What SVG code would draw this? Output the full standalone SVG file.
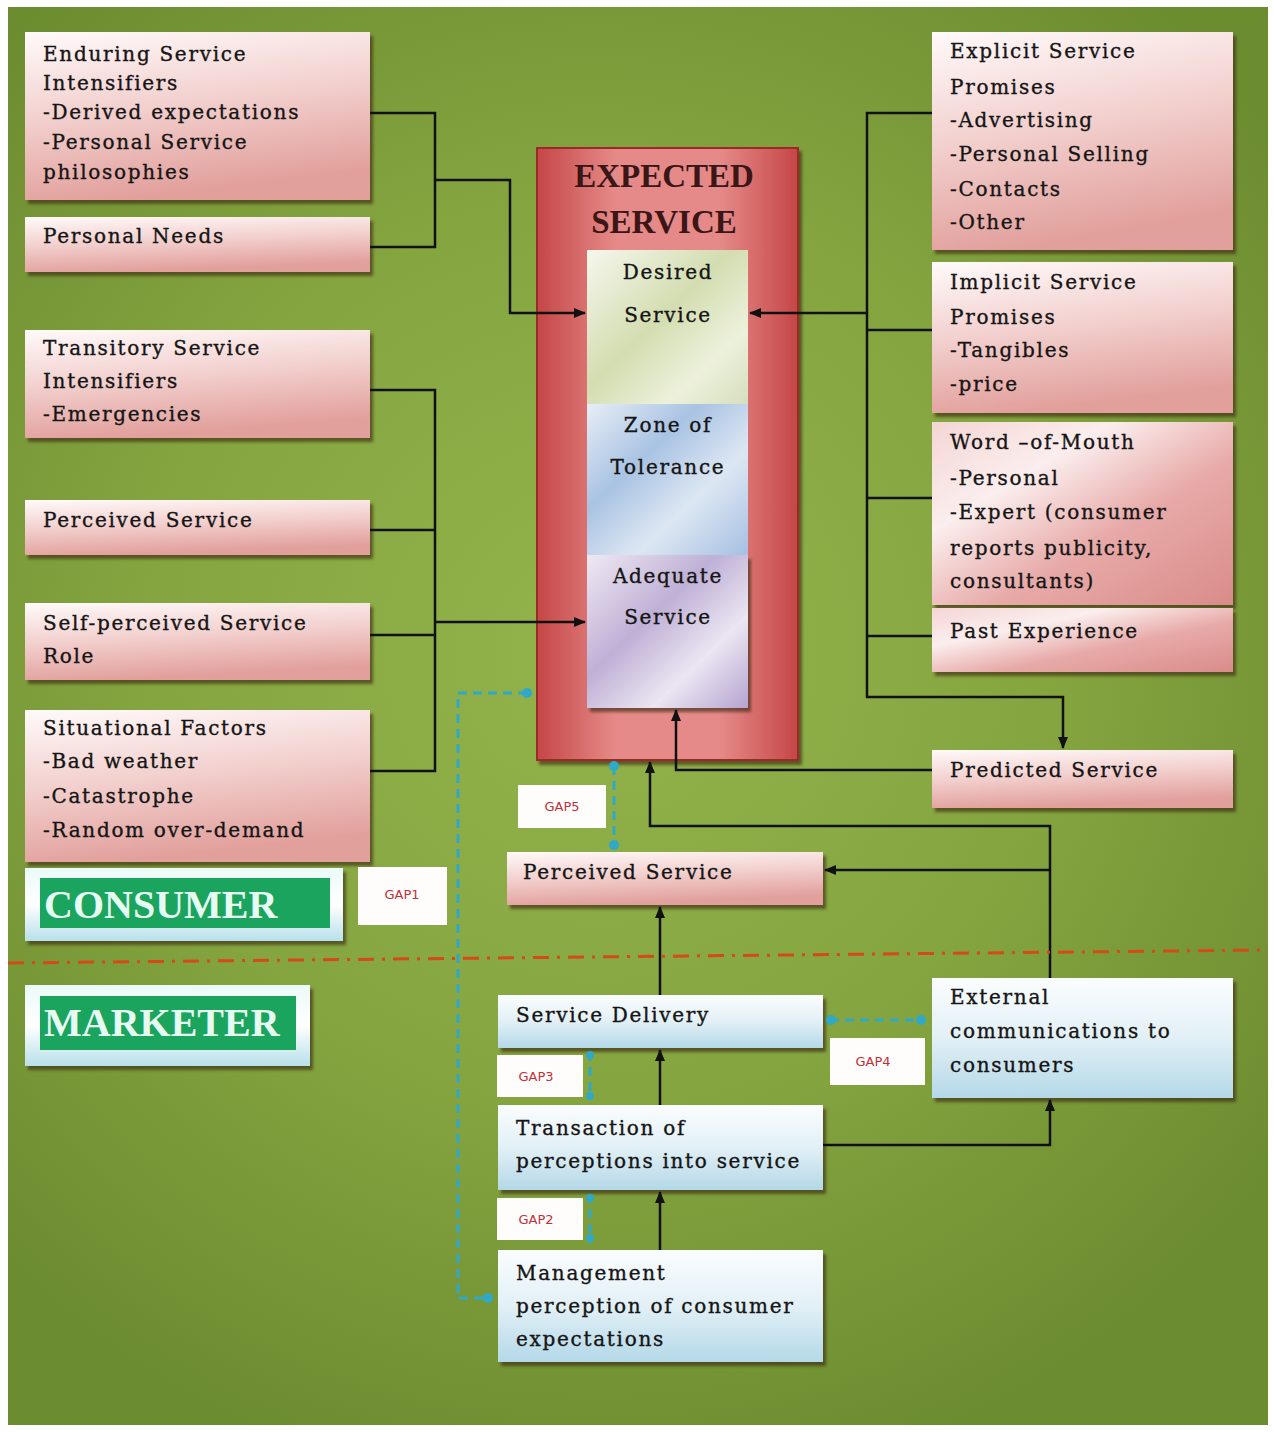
<svg xmlns="http://www.w3.org/2000/svg" width="1274" height="1432" viewBox="0 0 1274 1432">
<defs>
<radialGradient id="bg" cx="600" cy="650" r="850" gradientUnits="userSpaceOnUse">
<stop offset="0" stop-color="#93b44c"/>
<stop offset="0.55" stop-color="#84a440"/>
<stop offset="1" stop-color="#6c8c30"/>
</radialGradient>
<linearGradient id="pink" x1="0" y1="0" x2="0.25" y2="1">
<stop offset="0" stop-color="#fffafa"/>
<stop offset="0.5" stop-color="#f2d0ce"/>
<stop offset="1" stop-color="#e2a09c"/>
</linearGradient>
<linearGradient id="pink2" x1="0" y1="0" x2="1" y2="1">
<stop offset="0" stop-color="#f4d6d4"/>
<stop offset="0.3" stop-color="#fbeeee"/>
<stop offset="0.6" stop-color="#e7aaa8"/>
<stop offset="1" stop-color="#d98c8a"/>
</linearGradient>
<linearGradient id="blue" x1="0" y1="0" x2="0" y2="1">
<stop offset="0" stop-color="#fbfdfe"/>
<stop offset="0.5" stop-color="#e2f0f6"/>
<stop offset="1" stop-color="#b4d8e8"/>
</linearGradient>
<linearGradient id="lbl" x1="0" y1="0" x2="0" y2="1">
<stop offset="0" stop-color="#eafaf8"/>
<stop offset="0.5" stop-color="#ffffff"/>
<stop offset="1" stop-color="#b8e0ea"/>
</linearGradient>
<linearGradient id="red" x1="0" y1="0" x2="1" y2="0">
<stop offset="0" stop-color="#c54646"/>
<stop offset="0.3" stop-color="#e58a88"/>
<stop offset="0.7" stop-color="#e58a88"/>
<stop offset="1" stop-color="#c54646"/>
</linearGradient>
<linearGradient id="des" x1="0" y1="0" x2="1" y2="1">
<stop offset="0" stop-color="#f6f7ee"/>
<stop offset="0.45" stop-color="#d3ddb0"/>
<stop offset="0.75" stop-color="#edf1dc"/>
<stop offset="1" stop-color="#d5dfbc"/>
</linearGradient>
<linearGradient id="zone" x1="0" y1="0" x2="1" y2="1">
<stop offset="0" stop-color="#e8eef6"/>
<stop offset="0.35" stop-color="#a9c3e3"/>
<stop offset="0.65" stop-color="#dde7f3"/>
<stop offset="1" stop-color="#a6c0e2"/>
</linearGradient>
<linearGradient id="adeq" x1="0" y1="0" x2="1" y2="1">
<stop offset="0" stop-color="#efe9f3"/>
<stop offset="0.4" stop-color="#bfb0d6"/>
<stop offset="0.7" stop-color="#ebe6f2"/>
<stop offset="1" stop-color="#b5a4d0"/>
</linearGradient>
<filter id="sh" x="-5%" y="-5%" width="115%" height="120%">
<feDropShadow dx="3" dy="4" stdDeviation="1.5" flood-color="#3c2a10" flood-opacity="0.65"/>
</filter>
<marker id="ar" viewBox="0 0 12 12" refX="11" refY="6" markerWidth="12" markerHeight="12" markerUnits="userSpaceOnUse" orient="auto">
<path d="M0,1 L12,6 L0,11 Z" fill="#111"/>
</marker>
<style>
.t{font-family:"DejaVu Serif","Liberation Serif",serif;font-size:20px;letter-spacing:1.7px;fill:#151515;stroke:#151515;stroke-width:0.35}
.c{text-anchor:middle}
.gap{font-family:"DejaVu Sans","Liberation Sans",sans-serif;font-size:13px;fill:#c0303a;text-anchor:middle}
.big{font-family:"Liberation Serif",serif;font-weight:bold;font-size:40px;fill:#e6fbf2}
.hd{font-family:"Liberation Serif",serif;font-weight:bold;font-size:33px;fill:#3a1616;text-anchor:middle}
.pk{fill:url(#pink);filter:url(#sh)}
.bl{fill:url(#blue);filter:url(#sh)}
.wb{fill:#fffdfb}
.ln{fill:none;stroke:#111;stroke-width:2.5}
.cy{fill:none;stroke:#30a8c8;stroke-width:3;stroke-dasharray:9 6}
.dot{fill:#30a8c8}
</style>
</defs>
<rect x="0" y="0" width="1274" height="1432" fill="#ffffff"/>
<rect x="8" y="7" width="1260" height="1418" fill="url(#bg)"/>

<g id="enduring"><rect class="pk" x="25" y="32" width="345" height="168"/>
<text class="t" x="43" y="61">Enduring Service</text><text class="t" x="43" y="90">Intensifiers</text><text class="t" x="43" y="119">-Derived expectations</text><text class="t" x="43" y="149">-Personal Service</text><text class="t" x="43" y="179">philosophies</text></g>
<g id="personal-needs"><rect class="pk" x="25" y="217" width="345" height="55"/>
<text class="t" x="43" y="243">Personal Needs</text></g>
<g id="transitory"><rect class="pk" x="25" y="330" width="345" height="108"/>
<text class="t" x="43" y="355">Transitory Service</text><text class="t" x="43" y="388">Intensifiers</text><text class="t" x="43" y="421">-Emergencies</text></g>
<g id="perceived-left"><rect class="pk" x="25" y="500" width="345" height="55"/>
<text class="t" x="43" y="527">Perceived Service</text></g>
<g id="self-perceived"><rect class="pk" x="25" y="603" width="345" height="77"/>
<text class="t" x="43" y="630">Self-perceived Service</text><text class="t" x="43" y="663">Role</text></g>
<g id="situational"><rect class="pk" x="25" y="710" width="345" height="152"/>
<text class="t" x="43" y="735">Situational Factors</text><text class="t" x="43" y="768">-Bad weather</text><text class="t" x="43" y="803">-Catastrophe</text><text class="t" x="43" y="837">-Random over-demand</text></g>

<g id="consumer"><rect x="25" y="868" width="318" height="73" fill="url(#lbl)" filter="url(#sh)"/>
<rect x="40" y="878" width="290" height="50" fill="#1ba45e"/>
<text class="big" x="44" y="918">CONSUMER</text></g>
<g id="marketer"><rect x="25" y="985" width="285" height="81" fill="url(#lbl)" filter="url(#sh)"/>
<rect x="40" y="996" width="256" height="54" fill="#1ba45e"/>
<text class="big" x="44" y="1036">MARKETER</text></g>

<g id="expected-service">
<rect x="537" y="148" width="261" height="612" fill="url(#red)" stroke="#9a2a28" stroke-width="2" filter="url(#sh)"/>
<text class="hd" x="664" y="187">EXPECTED</text><text class="hd" x="664" y="233">SERVICE</text>
</g>
<g id="desired"><rect x="587" y="250" width="161" height="154" fill="url(#des)"/>
<text class="t c" x="668" y="279">Desired</text><text class="t c" x="668" y="322">Service</text></g>
<g id="zone"><rect x="587" y="404" width="161" height="151" fill="url(#zone)"/>
<text class="t c" x="668" y="432">Zone of</text><text class="t c" x="668" y="474">Tolerance</text></g>
<g id="adequate"><rect x="587" y="555" width="161" height="153" fill="url(#adeq)" filter="url(#sh)"/>
<text class="t c" x="668" y="583">Adequate</text><text class="t c" x="668" y="624">Service</text></g>

<g id="explicit"><rect class="pk" x="932" y="32" width="301" height="218"/>
<text class="t" x="950" y="58">Explicit Service</text><text class="t" x="950" y="94">Promises</text><text class="t" x="950" y="127">-Advertising</text><text class="t" x="950" y="161">-Personal Selling</text><text class="t" x="950" y="196">-Contacts</text><text class="t" x="950" y="229">-Other</text></g>
<g id="implicit"><rect class="pk" x="932" y="262" width="301" height="151"/>
<text class="t" x="950" y="289">Implicit Service</text><text class="t" x="950" y="324">Promises</text><text class="t" x="950" y="357">-Tangibles</text><text class="t" x="950" y="391">-price</text></g>
<g id="word-of-mouth"><rect x="932" y="422" width="301" height="183" fill="url(#pink2)" filter="url(#sh)"/>
<text class="t" x="950" y="449">Word –of-Mouth</text><text class="t" x="950" y="485">-Personal</text><text class="t" x="950" y="519">-Expert (consumer</text><text class="t" x="950" y="555">reports publicity,</text><text class="t" x="950" y="588">consultants)</text></g>
<g id="past-experience"><rect x="932" y="608" width="301" height="64" fill="url(#pink2)" filter="url(#sh)"/>
<text class="t" x="950" y="638">Past Experience</text></g>
<g id="predicted"><rect class="pk" x="932" y="750" width="301" height="58"/>
<text class="t" x="950" y="777">Predicted Service</text></g>

<g id="perceived-center"><rect class="pk" x="507" y="852" width="316" height="53"/>
<text class="t" x="523" y="879">Perceived Service</text></g>
<g id="service-delivery"><rect class="bl" x="498" y="995" width="325" height="53"/>
<text class="t" x="516" y="1022">Service Delivery</text></g>
<g id="transaction"><rect class="bl" x="498" y="1105" width="325" height="85"/>
<text class="t" x="516" y="1135">Transaction of</text><text class="t" x="516" y="1168">perceptions into service</text></g>
<g id="management"><rect class="bl" x="498" y="1250" width="325" height="112"/>
<text class="t" x="516" y="1280">Management</text><text class="t" x="516" y="1313">perception of consumer</text><text class="t" x="516" y="1346">expectations</text></g>
<g id="external"><rect class="bl" x="932" y="978" width="301" height="120"/>
<text class="t" x="950" y="1004">External</text><text class="t" x="950" y="1038">communications to</text><text class="t" x="950" y="1072">consumers</text></g>

<g id="gap-labels">
<rect class="wb" x="358" y="867" width="89" height="58"/><text class="gap" x="402" y="899">GAP1</text>
<rect class="wb" x="518" y="785" width="88" height="43"/><text class="gap" x="562" y="811">GAP5</text>
<rect class="wb" x="497" y="1055" width="86" height="42"/><text class="gap" x="536" y="1081">GAP3</text>
<rect class="wb" x="497" y="1198" width="86" height="42"/><text class="gap" x="536" y="1224">GAP2</text>
<rect class="wb" x="830" y="1038" width="95" height="47"/><text class="gap" x="873" y="1066">GAP4</text>
</g>

<g id="connectors">
<polyline class="ln" points="370,113 435,113 435,247 370,247"/>
<polyline class="ln" points="435,180 510,180 510,313 585,313" marker-end="url(#ar)"/>
<polyline class="ln" points="370,390 435,390 435,771 370,771"/>
<line class="ln" x1="370" y1="530" x2="435" y2="530"/>
<line class="ln" x1="370" y1="635" x2="435" y2="635"/>
<line class="ln" x1="435" y1="622" x2="585" y2="622" marker-end="url(#ar)"/>
<polyline class="ln" points="932,113 867,113 867,697 1063,697 1063,748" marker-end="url(#ar)"/>
<line class="ln" x1="867" y1="313" x2="750" y2="313" marker-end="url(#ar)"/>
<line class="ln" x1="932" y1="330" x2="867" y2="330"/>
<line class="ln" x1="932" y1="498" x2="867" y2="498"/>
<line class="ln" x1="932" y1="636" x2="867" y2="636"/>
<polyline class="ln" points="932,770 676,770 676,710" marker-end="url(#ar)"/>
<polyline class="ln" points="1050,978 1050,826 650,826 650,762" marker-end="url(#ar)"/>
<line class="ln" x1="1050" y1="870" x2="825" y2="870" marker-end="url(#ar)"/>
<line class="ln" x1="660" y1="995" x2="660" y2="907" marker-end="url(#ar)"/>
<line class="ln" x1="660" y1="1105" x2="660" y2="1050" marker-end="url(#ar)"/>
<line class="ln" x1="660" y1="1250" x2="660" y2="1192" marker-end="url(#ar)"/>
<polyline class="ln" points="823,1145 1050,1145 1050,1100" marker-end="url(#ar)"/>
<path d="M8,963 L1268,950" fill="none" stroke="#d44a18" stroke-width="3" stroke-dasharray="16 8 3 8"/>
<polyline class="cy" points="527,693 458,693 458,1298 488,1298"/>
<circle class="dot" cx="527" cy="693" r="5"/><circle class="dot" cx="488" cy="1298" r="5"/>
<line class="cy" x1="614" y1="766" x2="614" y2="845"/>
<circle class="dot" cx="614" cy="766" r="5"/><circle class="dot" cx="614" cy="845" r="5"/>
<line class="cy" x1="590" y1="1052" x2="590" y2="1100"/>
<circle class="dot" cx="590" cy="1055" r="4"/><circle class="dot" cx="590" cy="1096" r="4"/>
<line class="cy" x1="590" y1="1194" x2="590" y2="1243"/>
<circle class="dot" cx="590" cy="1198" r="4"/><circle class="dot" cx="590" cy="1238" r="4"/>
<line class="cy" x1="830" y1="1020" x2="922" y2="1020"/>
<circle class="dot" cx="831" cy="1020" r="5"/><circle class="dot" cx="921" cy="1020" r="5"/>
</g>
</svg>
